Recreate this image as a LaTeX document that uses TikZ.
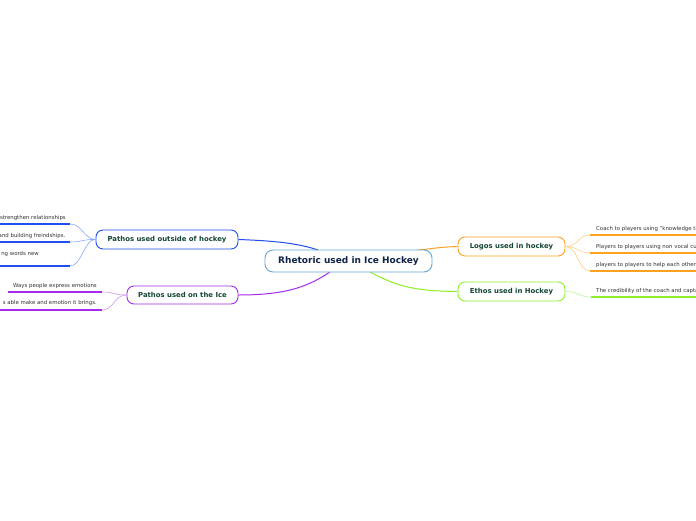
\documentclass[tikz,border=0pt]{standalone}
\usepackage{fontspec}
\setmainfont{DejaVu Sans}
\usetikzlibrary{calc}
\definecolor{cblue}{HTML}{1F4FF0}
\definecolor{lblue}{HTML}{8AA8FF}
\definecolor{cpurp}{HTML}{A52CEB}
\definecolor{lpurp}{HTML}{CF95F2}
\definecolor{corng}{HTML}{FFA21F}
\definecolor{lorng}{HTML}{FFCD80}
\definecolor{cgrn}{HTML}{8DF02A}
\definecolor{lgrn}{HTML}{BDF58F}
\definecolor{rootb}{HTML}{5FA8DC}
\definecolor{roott}{HTML}{102448}
\definecolor{brt}{HTML}{154535}
\definecolor{leaft}{HTML}{333333}
\tikzset{
  rootbox/.style={draw=rootb, line width=0.9pt, rounded corners=8pt, fill=white, minimum width=167pt, minimum height=22pt, inner sep=0pt, text=roott, font=\fontsize{9}{10}\selectfont\bfseries},
  branchbox/.style={draw=#1, line width=0.9pt, rounded corners=7pt, fill=white, minimum height=19pt, inner sep=0pt, text=brt, font=\fontsize{6.9}{8}\selectfont\bfseries},
  leaftext/.style={inner sep=0pt, text=leaft, font=\fontsize{5.4}{6}\selectfont},
  mainline/.style={draw=#1, line width=1pt},
  leafline/.style={draw=#1, line width=0.6pt},
  uline/.style={draw=#1, line width=1.6pt}
}
\begin{document}
\begin{tikzpicture}[x=1pt,y=-1pt]
\useasboundingbox (0,0) rectangle (696,520);
\fill[white] (0,0) rectangle (696,520);
\begin{scope}
\clip (0,0) rectangle (696,520);
% connectors from root
\coordinate (rpo) at (318,250);
\coordinate (rpi) at (330,272);
\coordinate (rlo) at (418,250);
\coordinate (ret) at (370,272);
\node[branchbox=cblue, minimum width=142pt] (po) at (167,239.5) {Pathos used outside of hockey};
\node[branchbox=cpurp, minimum width=111pt, minimum height=18pt] (pi) at (182.5,295) {Pathos used on the Ice};
\node[branchbox=corng, minimum width=107pt] (lo) at (511.5,246.5) {Logos used in hockey};
\node[branchbox=cgrn, minimum width=107pt] (et) at (511.5,291.5) {Ethos used in Hockey};
\draw[mainline=cblue] (po.east) .. controls (280,241) and (300,244) .. (rpo);
\draw[mainline=cpurp] (pi.east) .. controls (290,295) and (310,285) .. (rpi);
\draw[mainline=corng] (lo.west) .. controls (440,247) and (430,249) .. (rlo);
\draw[mainline=cgrn] (et.west) .. controls (410,291) and (395,285) .. (ret);
\node[rootbox] (root) at (348.5,261) {Rhetoric used in Ice Hockey};
% pathos outside leaves
\coordinate (u1a) at (0,224); \coordinate (u1b) at (70,224);
\coordinate (u2a) at (0,242); \coordinate (u2b) at (70,242);
\coordinate (u3a) at (0,266); \coordinate (u3b) at (70,266);
\draw[uline=cblue] (u1a) -- (u1b);
\draw[uline=cblue] (u2a) -- (u2b);
\draw[uline=cblue] (u3a) -- (u3b);
\draw[leafline=lblue] (po.west) .. controls (84,239) and (82,224) .. (u1b);
\draw[leafline=lblue] (po.west) .. controls (84,239) and (82,242) .. (u2b);
\draw[leafline=lblue] (po.west) .. controls (84,239) and (82,266) .. (u3b);
\node[leaftext, anchor=east] (t1) at (66,218) {strengthen relationships};
\node[leaftext, anchor=east] (t2) at (65.5,236) {and building freindships.};
\node[leaftext, anchor=east] (t3) at (39,254) {ng words new};
% pathos ice leaves
\coordinate (u4a) at (8,292); \coordinate (u4b) at (102,292);
\coordinate (u5a) at (0,310); \coordinate (u5b) at (102,310);
\draw[uline=cpurp] (u4a) -- (u4b);
\draw[uline=cpurp] (u5a) -- (u5b);
\draw[leafline=lpurp] (pi.west) .. controls (114,295) and (114,292) .. (u4b);
\draw[leafline=lpurp] (pi.west) .. controls (114,295) and (114,310) .. (u5b);
\node[leaftext, anchor=east] (t4) at (97,286) {Ways people express emotions};
\node[leaftext, anchor=east] (t5) at (97,303.5) {s able make and emotion it brings.};
% logos leaves
\coordinate (u6a) at (590,235); \coordinate (u6b) at (700,235);
\coordinate (u7a) at (590,253); \coordinate (u7b) at (700,253);
\coordinate (u8a) at (590,271); \coordinate (u8b) at (700,271);
\draw[uline=corng] (u6a) -- (u6b);
\draw[uline=corng] (u7a) -- (u7b);
\draw[uline=corng] (u8a) -- (u8b);
\draw[leafline=lorng] (lo.east) .. controls (578,246.5) and (578,235) .. (u6a);
\draw[leafline=lorng] (lo.east) .. controls (578,246.5) and (578,253) .. (u7a);
\draw[leafline=lorng] (lo.east) .. controls (578,246.5) and (578,271) .. (u8a);
\node[leaftext, anchor=west] (t6) at (596,229) {Coach to players using "knowledge to};
\node[leaftext, anchor=west] (t7) at (596,247) {Players to players using non vocal cues};
\node[leaftext, anchor=west] (t8) at (596,265) {players to players to help each other};
% ethos leaf
\coordinate (u9a) at (591,297); \coordinate (u9b) at (700,297);
\draw[uline=cgrn] (u9a) -- (u9b);
\draw[leafline=lgrn] (et.east) .. controls (580,291.5) and (578,297) .. (u9a);
\node[leaftext, anchor=west] (t9) at (596,291) {The credibility of the coach and captain};
\end{scope}
\end{tikzpicture}
\end{document}
